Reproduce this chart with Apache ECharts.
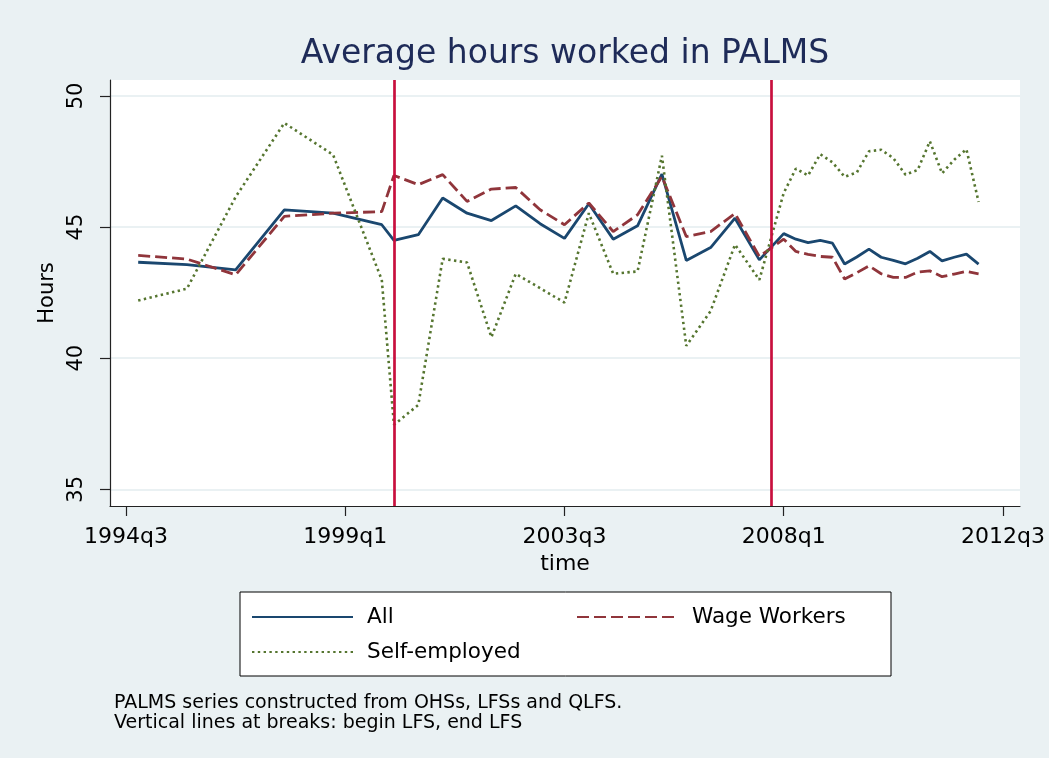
<!DOCTYPE html>
<html>
<head>
<meta charset="utf-8">
<script src="https://cdn.jsdelivr.net/npm/echarts@6/dist/echarts.min.js"></script>
<style>
  html, body { margin: 0; padding: 0; background: #eaf1f3; }
  #chart { width: 1049px; height: 758px; }
</style>
</head>
<body>
<div id="chart"></div>
<script>
// survey rounds: OHS (annual, q4), LFS (half-yearly), QLFS (quarterly)
var periods = ['1994q4','1995q4','1996q4','1997q4','1998q4','1999q4',
  '2000q1','2000q3','2001q1','2001q3','2002q1','2002q3','2003q1','2003q3',
  '2004q1','2004q3','2005q1','2005q3','2006q1','2006q3','2007q1','2007q3',
  '2008q1','2008q2','2008q3','2008q4','2009q1','2009q2','2009q3','2009q4',
  '2010q1','2010q2','2010q3','2010q4','2011q1','2011q2','2011q3','2011q4','2012q1'];

var allHours  = [43.66,43.57,43.37,45.66,45.53,45.09,
  44.49,44.71,46.11,45.53,45.25,45.81,45.13,44.57,
  45.89,44.54,45.05,47.02,43.73,44.22,45.34,43.75,
  44.75,44.54,44.41,44.49,44.39,43.59,43.86,44.16,
  43.85,43.73,43.60,43.81,44.07,43.71,43.85,43.97,43.59];

var wageHours = [43.92,43.78,43.18,45.41,45.53,45.59,
  46.97,46.62,47.00,45.98,46.45,46.51,45.66,45.09,
  45.92,44.83,45.47,46.93,44.64,44.83,45.52,43.88,
  44.54,44.07,43.96,43.88,43.85,43.02,43.26,43.52,
  43.22,43.08,43.08,43.28,43.33,43.11,43.21,43.31,43.22];

var selfHours = [42.20,42.65,46.15,48.97,47.76,42.99,
  37.46,38.22,43.79,43.65,40.80,43.22,42.67,42.12,
  45.53,43.22,43.31,47.72,40.47,41.80,44.33,42.99,
  46.30,47.23,46.97,47.78,47.47,46.92,47.08,47.89,
  47.95,47.63,47.00,47.18,48.27,47.05,47.57,47.97,45.96];

var xTicks = ['1994q3','1999q1','2003q3','2008q1','2012q3'];
var yTicks = [35, 40, 45, 50];
var breaks = ['2000q1','2007q4'];   // begin LFS, end LFS

var FONT = '"DejaVu Sans", sans-serif';

// quarter string -> stata-style quarterly date (quarters since 1960q1)
function tq(s){ var p = s.split('q'); return (+p[0]-1960)*4 + (+p[1]-1); }
function qlabel(v){ return (1960 + Math.floor(v/4)) + 'q' + (v%4 + 1); }
function pairs(vals){ return periods.map(function(p,i){ return [tq(p), vals[i]]; }); }

var xTickVals = xTicks.map(tq);

var chart = echarts.init(document.getElementById('chart'));
chart.setOption({
  backgroundColor: '#eaf1f3',
  animation: false,
  title: [{
    text: 'Average hours worked in PALMS',
    left: 565, top: 38, padding: 0, textAlign: 'center',
    textStyle: {fontFamily: FONT, fontSize: 33, fontWeight: 'normal', color: '#1e2b58'}
  },{
    text: 'PALMS series constructed from OHSs, LFSs and QLFS.\nVertical lines at breaks: begin LFS, end LFS',
    left: 114, top: 693, padding: 0,
    textStyle: {fontFamily: FONT, fontSize: 19, fontWeight: 'normal', color: '#000', lineHeight: 20}
  }],
  legend: {
    left: 240, top: 592, width: 625,
    orient: 'horizontal',
    padding: [13, 19, 12, 11],
    itemGap: 11, itemWidth: 101, itemHeight: 14,
    itemStyle: {opacity: 0},
    backgroundColor: '#fff', borderColor: '#000', borderWidth: 1, borderRadius: 0,
    textStyle: {fontFamily: FONT, fontSize: 21.5, color: '#000', lineHeight: 24, padding: [0,0,0,9]},
    data: [
      {name: 'All', textStyle: {width: 198}},
      {name: 'Wage Workers', textStyle: {width: 180}},
      {name: 'Self-employed'}
    ]
  },
  grid: {
    left: 110, right: 29, top: 80, bottom: 252,
    show: true, backgroundColor: '#fff', borderWidth: 0
  },
  xAxis: {
    type: 'value',
    min: 136.686, max: 211.40,
    name: 'time', nameLocation: 'middle', nameGap: 39,
    nameTextStyle: {fontFamily: FONT, fontSize: 22, color: '#000'},
    axisLine: {show: true, onZero: false, lineStyle: {color: '#222', width: 1.2}},
    axisTick: {show: true, customValues: xTickVals, length: 10, lineStyle: {color: '#222', width: 1.2}},
    axisLabel: {customValues: xTickVals, formatter: function(v){ return qlabel(v); },
      fontFamily: FONT, fontSize: 22, color: '#000', margin: 20},
    splitLine: {show: false}
  },
  yAxis: {
    type: 'value',
    min: 34.363, max: 50.61,
    name: 'Hours', nameLocation: 'middle', nameGap: 51,
    nameTextStyle: {fontFamily: FONT, fontSize: 21, color: '#000'},
    axisLine: {show: true, lineStyle: {color: '#222', width: 1.2}},
    axisTick: {show: true, customValues: yTicks, length: 10, lineStyle: {color: '#222', width: 1.2}},
    axisLabel: {customValues: yTicks, rotate: 90, fontFamily: FONT, fontSize: 21, color: '#000', margin: 23},
    splitLine: {show: true, lineStyle: {color: '#eaf1f3', width: 2}}
  },
  series: [{
    name: 'All', type: 'line', data: pairs(allHours),
    symbol: 'none', color: '#1a476f',
    lineStyle: {color: '#1a476f', width: 2.8, type: 'solid'},
    markLine: {
      silent: true, symbol: ['none','none'], label: {show: false},
      lineStyle: {color: '#c8103e', width: 2.7, type: 'solid'},
      data: breaks.map(function(b){ return {xAxis: tq(b)}; })
    }
  },{
    name: 'Wage Workers', type: 'line', data: pairs(wageHours),
    symbol: 'none', color: '#90353b',
    lineStyle: {color: '#90353b', width: 2.8, type: [12, 5]}
  },{
    name: 'Self-employed', type: 'line', data: pairs(selfHours),
    symbol: 'none', color: '#55752f',
    lineStyle: {color: '#55752f', width: 2.6, type: [2.4, 3.4]}
  }]
});
</script>
</body>
</html>
